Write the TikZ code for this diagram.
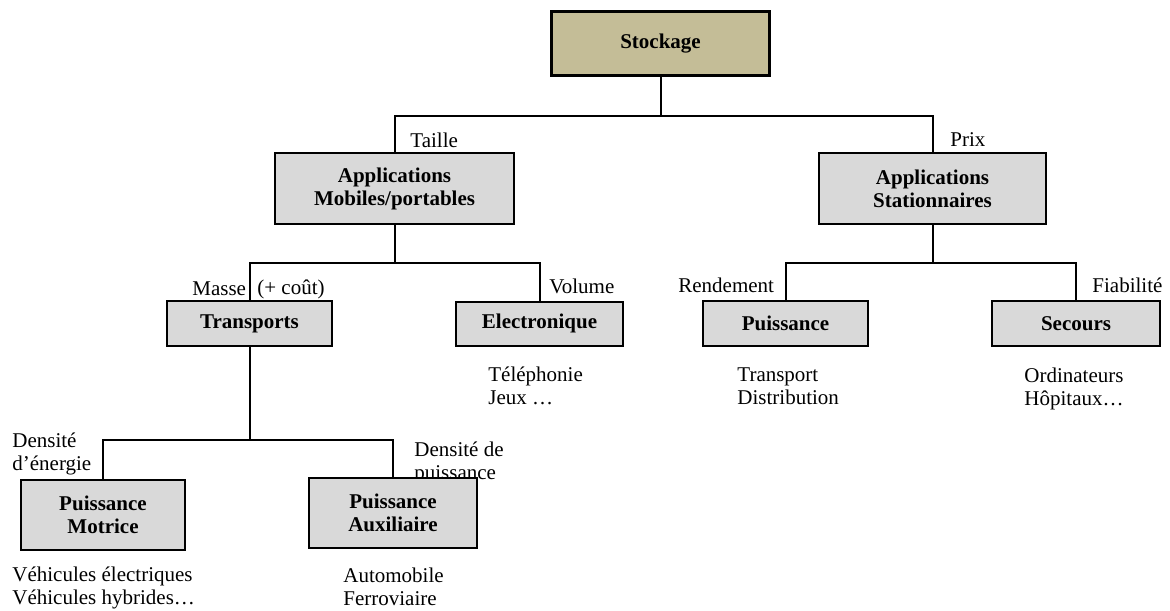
\documentclass[tikz,border=0pt]{standalone}
\usepackage{fontspec}
\setmainfont{Liberation Serif}
\usetikzlibrary{positioning}

\definecolor{stocktan}{HTML}{C4BD97}
\definecolor{boxgray}{HTML}{D9D9D9}

\tikzset{
    box/.style={draw, line width=1pt, fill=boxgray, font=\bfseries,
        align=center, inner sep=0pt},
    lien/.style={line width=1pt},
    note/.style={align=left, inner sep=0pt, anchor=west}
}

\begin{document}
\fontsize{10.5}{11.5}\selectfont
\begin{tikzpicture}[x=0.5pt,y=-0.5pt]
    % Page frame
    \useasboundingbox (0,0) rectangle (1170,610);

    % Text that the boxes partly hide
    \node[note] (dpuis) at (414,463) {Densité de\\puissance};

    % Root
    \node[box, fill=stocktan, line width=1.7pt, minimum width=109pt,
        minimum height=32pt] (stock) at (660.5,43.5) {Stockage};

    % First level
    \node[box, minimum width=119.5pt, minimum height=35.5pt]
        (mob) at (394.5,188.5) {Applications\\Mobiles/portables};
    \node[box, minimum width=113.5pt, minimum height=35.5pt]
        (sta) at (932.5,188.5) {Applications\\Stationnaires};

    % Second level
    \node[box, minimum width=82.5pt, minimum height=22.5pt]
        (trans) at (249.5,323.5) {Transports};
    \node[box, minimum width=83.5pt, minimum height=22pt]
        (elec) at (539.5,323.5) {Electronique};
    \node[box, minimum width=82.5pt, minimum height=22.5pt]
        (puis) at (785.5,323.5) {Puissance};
    \node[box, minimum width=84pt, minimum height=22.5pt]
        (sec) at (1076,323.5) {Secours};

    % Third level
    \node[box, minimum width=82pt, minimum height=35pt]
        (mot) at (103,515) {Puissance\\Motrice};
    \node[box, minimum width=84pt, minimum height=35pt]
        (aux) at (393,513) {Puissance\\Auxiliaire};

    % Junctions of the tree
    \coordinate (j1) at (660.5,116);
    \coordinate (j2) at (394.5,263);
    \coordinate (j3) at (932.5,263);
    \coordinate (j4) at (249.5,440);

    % Connectors
    \draw[lien] (stock.south) -- (j1);
    \draw[lien] (mob.north) |- (j1) -| (sta.north);
    \draw[lien] (mob.south) -- (j2);
    \draw[lien] (trans.north) |- (j2) -| (elec.north);
    \draw[lien] (sta.south) -- (j3);
    \draw[lien] (puis.north) |- (j3) -| (sec.north);
    \draw[lien] (trans.south) -- (j4);
    \draw[lien] (mot.north) |- (j4) -| (aux.north);

    % Criteria on the branches
    \node[note] (taille) at (410,140) {Taille};
    \node[note] (prix) at (950,140) {Prix};
    \node[note] (masse) at (192,289) {Masse};
    \node[note] (cout) at (257,289) {(+ coût)};
    \node[note] (volume) at (549,286) {Volume};
    \node[note] (rend) at (678,285) {Rendement};
    \node[note] (fiab) at (1092,285) {Fiabilité};
    \node[note] (denerg) at (12,454) {Densité\\d’énergie};

    % Examples under the boxes
    \node[note] (tel) at (488,385.5) {Téléphonie\\Jeux …};
    \node[note] (tdist) at (737,386.5) {Transport\\Distribution};
    \node[note] (ordi) at (1024,388.5) {Ordinateurs\\Hôpitaux…};
    \node[note] (vehic) at (12,587.5) {Véhicules électriques\\Véhicules hybrides…};
    \node[note] (auto) at (343,586.5) {Automobile\\Ferroviaire};
\end{tikzpicture}
\end{document}
